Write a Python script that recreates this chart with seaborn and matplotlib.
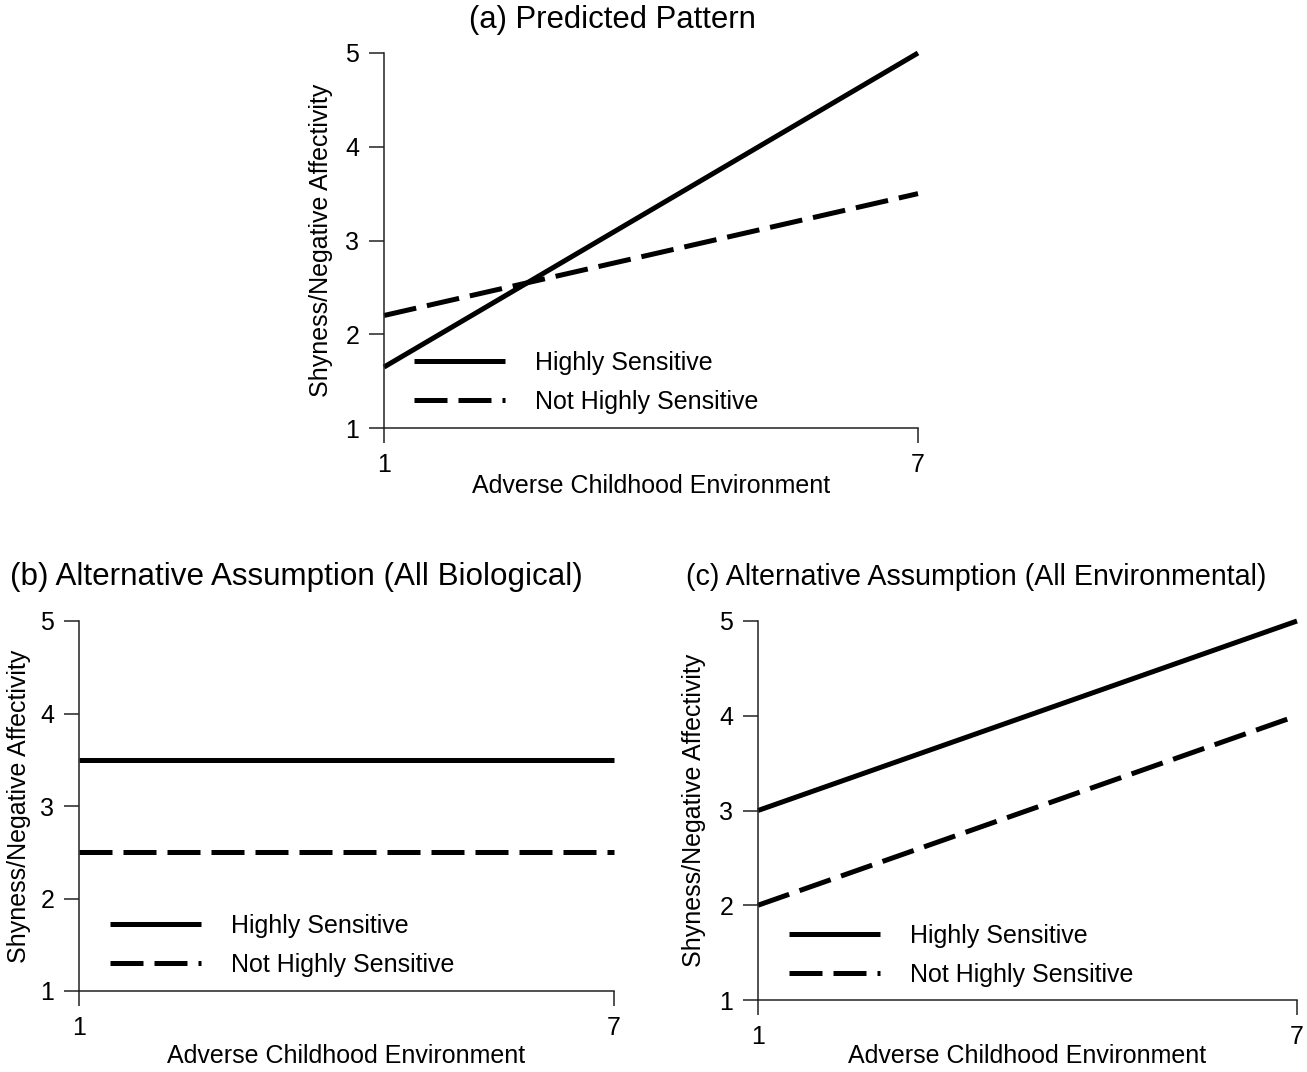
import matplotlib
matplotlib.use("Agg")
import matplotlib.pyplot as plt
import seaborn as sns
import pandas as pd

# data
x_env = [1, 7]
groups = ["Highly Sensitive", "Not Highly Sensitive"]
pred_high = [1.65, 5.0]
pred_not = [2.2, 3.5]
bio_high = [3.5, 3.5]
bio_not = [2.5, 2.5]
env_high = [3.0, 5.0]
env_not = [2.0, 4.0]
y_ticks = [1, 2, 3, 4, 5]
x_ticks = [1, 7]
titles = ["(a) Predicted Pattern",
          "(b) Alternative Assumption (All Biological)",
          "(c) Alternative Assumption (All Environmental)"]
xlabel = "Adverse Childhood Environment"
ylabel = "Shyness/Negative Affectivity"

sns.set_theme(style="ticks")
plt.rcParams["font.family"] = ["Liberation Sans", "DejaVu Sans"]
plt.rcParams["text.color"] = "black"
plt.rcParams["axes.labelcolor"] = "black"

W, H = 1307, 1072
fig = plt.figure(figsize=(W / 100, H / 100), dpi=100)


def px_axes(l, r, t, b):
    return fig.add_axes([l / W, 1 - b / H, (r - l) / W, (b - t) / H])


panels = [
    # axes box in px, series, legend anchor, ylabel x, xlabel y, title pos/size
    dict(box=(384, 918, 53, 428), hs=pred_high, nhs=pred_not,
         leg=(0.056, 0.205), ylx=-0.0955, xly=-0.123, title=(469, 20, 22.4)),
    dict(box=(79, 614, 621, 991), hs=bio_high, nhs=bio_not,
         leg=(0.058, 0.209), ylx=-0.0897, xly=-0.143, title=(10, 577, 22.6)),
    dict(box=(758, 1297, 621, 1000), hs=env_high, nhs=env_not,
         leg=(0.0575, 0.201), ylx=-0.0965, xly=-0.116, title=(686, 577, 20.6)),
]

lw = 3.6
for p, title in zip(panels, titles):
    ax = px_axes(*p["box"])
    df = pd.DataFrame({
        "x": x_env * 2,
        "y": p["hs"] + p["nhs"],
        "group": [groups[0]] * 2 + [groups[1]] * 2,
    })
    sns.lineplot(data=df, x="x", y="y", style="group",
                 dashes={groups[0]: "", groups[1]: (6.6, 2.2)},
                 color="black", linewidth=lw, ax=ax, clip_on=False)
    for ln in ax.lines:
        ln.set_solid_capstyle("butt")
        ln.set_dash_capstyle("butt")
    ax.set_xlim(1, 7)
    ax.set_ylim(1, 5)
    ax.set_xticks(x_ticks)
    ax.set_yticks(y_ticks)
    ax.tick_params(length=10.8, width=1.1, pad=7, labelsize=18,
                   color="#222222", labelcolor="black")
    for s in ("left", "bottom"):
        ax.spines[s].set_linewidth(1.1)
        ax.spines[s].set_color("#222222")
    sns.despine(ax=ax)
    ax.set_xlabel(xlabel, fontsize=18)
    ax.set_ylabel(ylabel, fontsize=18)
    ax.yaxis.set_label_coords(p["ylx"], 0.5)
    ax.xaxis.set_label_coords(0.5, p["xly"])
    ax.legend(title=None, loc="upper left", bbox_to_anchor=p["leg"],
              frameon=False, fontsize=18, handlelength=3.64,
              handletextpad=1.2, labelspacing=0.6, borderpad=0,
              borderaxespad=0)
    tx, ty, tsize = p["title"]
    fig.text(tx / W, 1 - ty / H, title, fontsize=tsize, ha="left", va="center")

fig.savefig("out.png", dpi=100)
